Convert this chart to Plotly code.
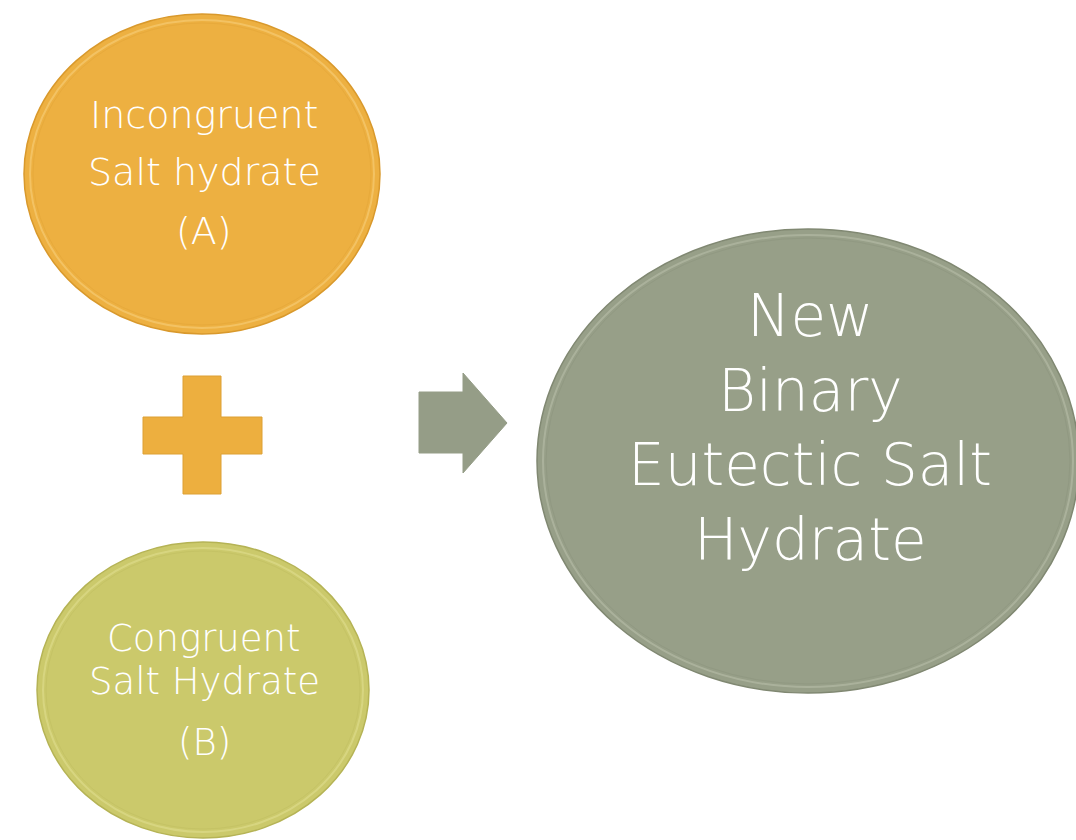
import plotly.graph_objects as go

# diagram content
line_a = ["Incongruent", "Salt hydrate", "(A)"]
line_b = ["Congruent", "Salt Hydrate", "(B)"]
line_c = ["New", "Binary", "Eutectic Salt", "Hydrate"]

col_a = "#EDB041"
col_b = "#CBC96B"
col_c = "#979F88"

W, H = 1076, 840
FONT = "DejaVu Sans"


def disc(x0, y0, x1, y1, fill, rim, shine):
    return [
        dict(type="circle", xref="x", yref="y", x0=x0, y0=y0, x1=x1, y1=y1,
             fillcolor=fill, line=dict(color=rim, width=1.5), layer="below"),
        dict(type="circle", xref="x", yref="y", x0=x0 + 6, y0=y0 + 6, x1=x1 - 6, y1=y1 - 6,
             fillcolor="rgba(0,0,0,0)", line=dict(color=shine, width=2), opacity=0.6,
             layer="below"),
        dict(type="circle", xref="x", yref="y", x0=x0 + 9, y0=y0 + 9, x1=x1 - 9, y1=y1 - 9,
             fillcolor="rgba(0,0,0,0)", line=dict(color=rim, width=1), opacity=0.25,
             layer="below"),
    ]


shapes = []
shapes += disc(24, 14, 380, 334, col_a, "#D9992C", "#F7CF7A")
shapes += disc(37, 542, 369, 838, col_b, "#B5B355", "#E0DE8F")
shapes += disc(537, 229, 1079, 693, col_c, "#808872", "#B8BEA9")

# plus sign
shapes.append(dict(
    type="path", xref="x", yref="y",
    path="M183,376 L221,376 L221,417 L262,417 L262,454 L221,454 L221,494 "
         "L183,494 L183,454 L143,454 L143,417 L183,417 Z",
    fillcolor="#EDAF3F", line=dict(color="#DDA035", width=1)))

# arrow
shapes.append(dict(
    type="path", xref="x", yref="y",
    path="M419,392 L463,392 L463,373 L507,423 L463,473 L463,453 L419,453 Z",
    fillcolor="#959D87", line=dict(color="#959D87", width=1)))

annotations = []
for txt, y in zip(line_a, [115, 172, 231]):
    annotations.append(dict(x=204, y=y, text=txt, showarrow=False, xref="x", yref="y",
                            font=dict(family=FONT, size=38, color="white", weight=200)))
for txt, y in zip(line_b, [638, 681, 742]):
    annotations.append(dict(x=204, y=y, text=txt, showarrow=False, xref="x", yref="y",
                            font=dict(family=FONT, size=37, color="white", weight=200)))
for txt, y in zip(line_c, [316, 391, 465, 540]):
    annotations.append(dict(x=810, y=y, text=txt, showarrow=False, xref="x", yref="y",
                            font=dict(family=FONT, size=58, color="white", weight=200)))

fig = go.Figure()
fig.update_layout(
    width=W, height=H,
    margin=dict(l=0, r=0, t=0, b=0),
    paper_bgcolor="white", plot_bgcolor="white",
    xaxis=dict(range=[0, W], visible=False, fixedrange=True),
    yaxis=dict(range=[H, 0], visible=False, fixedrange=True),
    shapes=shapes, annotations=annotations,
    showlegend=False,
)

# page body has an 8px default margin; drop it so the figure sits at the corner
fig.write_html("out.html", post_script="document.body.style.margin='0';",
               config={"displayModeBar": False})
